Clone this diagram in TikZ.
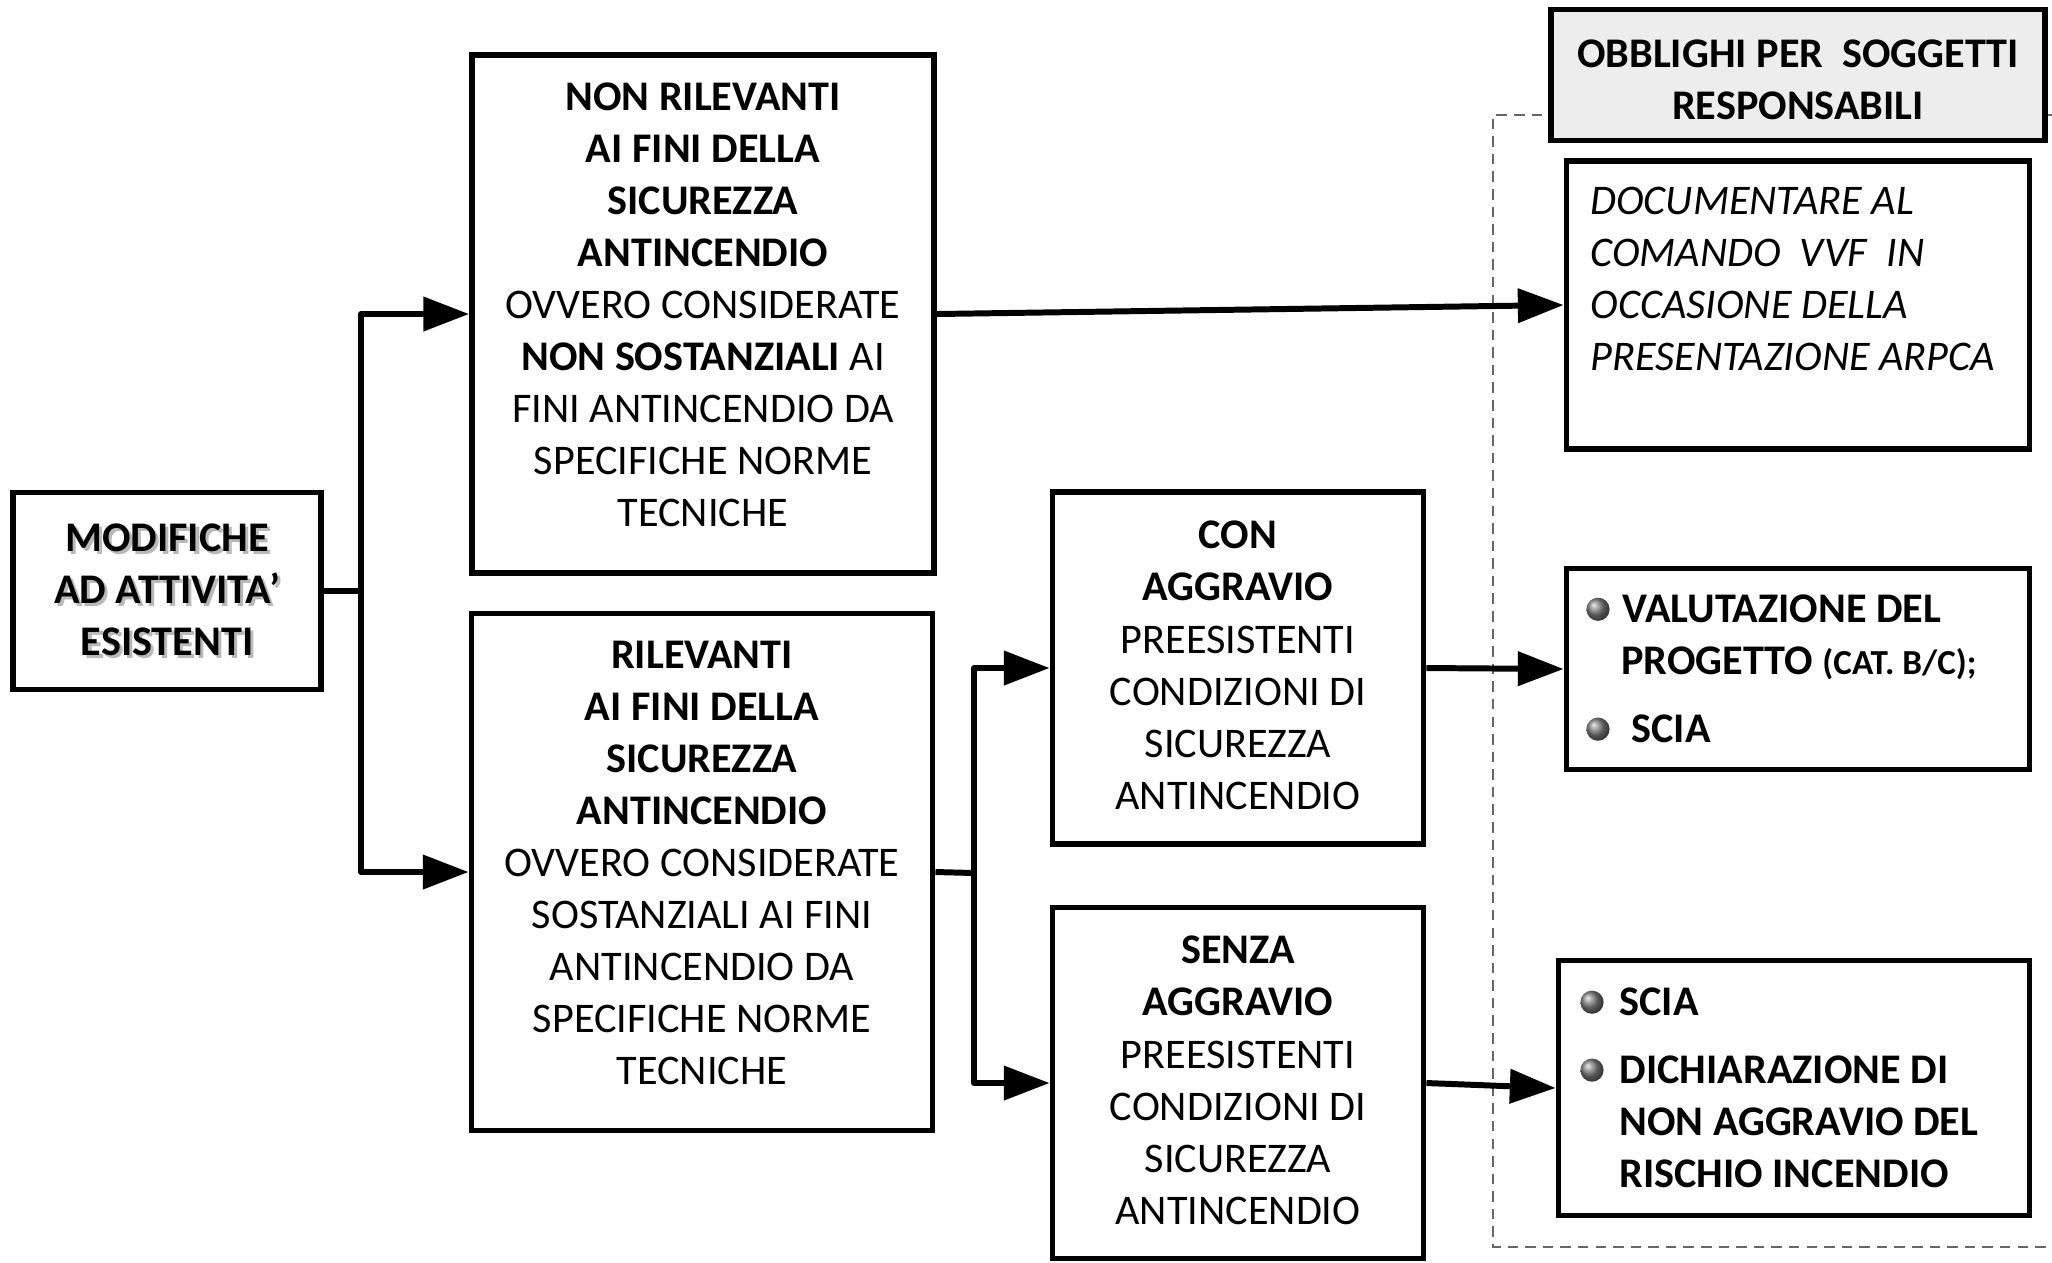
\documentclass[tikz,border=0pt]{standalone}
\usepackage{fontspec}
\setmainfont{Carlito}
\usetikzlibrary{arrows.meta}
\definecolor{hdrgray}{HTML}{EDEDED}
\newcommand{\ballbul}{\tikz[baseline=-0.32em]\shade[ball color=gray] (0,0) circle (3.3pt);}
\newcommand{\shline}[1]{\makebox[0pt][l]{\hspace{0.9pt}\raisebox{-0.9pt}{\color{gray!55}\bfseries#1}}\textbf{#1}}
\newcommand{\lowstrut}[1]{\rule[-#1]{0pt}{0pt}}

\begin{document}
\begin{tikzpicture}
  [
    x = 0.01cm, y = -0.01cm,
    every node/.style = {font=\fontsize{12pt}{14.8pt}\selectfont},
    flowbox/.style    = {draw, line width=1.6pt, align=center, inner sep=0pt},
    outbox/.style     = {draw, line width=1.6pt, align=flush left, inner ysep=0pt},
    conn/.style       = {line width=1.7pt, line join=round},
    arr/.style        = {conn, -{Triangle[length=13pt,width=9.5pt]}}
  ]
 \useasboundingbox (0,0) rectangle (2052,1262);
 % frame of the right column
 \draw[gray!80!black, line width=0.5pt, dash pattern=on 3pt off 2pt]
   (2052,115) -- (1493,115) -- (1493,1247) -- (2052,1247);
 % left part
 \node[flowbox, minimum width=3.08cm, minimum height=1.97cm] (mod) at (167,591)
   {\shline{MODIFICHE}\\ \shline{AD ATTIVITA’}\\ \shline{ESISTENTI}};
 \node[flowbox, minimum width=4.62cm, minimum height=5.18cm] (nonril) at (703,314)
   {\textbf{NON RILEVANTI}\\ \textbf{AI FINI DELLA}\\ \textbf{SICUREZZA}\\ \textbf{ANTINCENDIO}\\
    OVVERO CONSIDERATE\\ \textbf{NON SOSTANZIALI} AI\\ FINI ANTINCENDIO DA\\ SPECIFICHE NORME\\ TECNICHE\lowstrut{5.2pt}};
 \node[flowbox, minimum width=4.61cm, minimum height=5.17cm] (ril) at (702,872)
   {\textbf{RILEVANTI}\\ \textbf{AI FINI DELLA}\\ \textbf{SICUREZZA}\\ \textbf{ANTINCENDIO}\\
    OVVERO CONSIDERATE\\ SOSTANZIALI AI FINI\\ ANTINCENDIO DA\\ SPECIFICHE NORME\\ TECNICHE\lowstrut{5.2pt}};
 \node[flowbox, minimum width=3.71cm, minimum height=3.52cm] (con) at (1238,668)
   {\textbf{CON}\\ \textbf{AGGRAVIO}\\ PREESISTENTI\\ CONDIZIONI DI\\ SICUREZZA\\ ANTINCENDIO\lowstrut{1.6pt}};
 \node[flowbox, minimum width=3.71cm, minimum height=3.51cm] (senza) at (1238,1083)
   {\textbf{SENZA}\\ \textbf{AGGRAVIO}\\ PREESISTENTI\\ CONDIZIONI DI\\ SICUREZZA\\ ANTINCENDIO\lowstrut{1.6pt}};
 % right column
 \node[flowbox, fill=hdrgray, minimum width=4.94cm, minimum height=1.31cm] (hdr) at (1798,75)
   {\textbf{OBBLIGHI PER~~SOGGETTI}\rule{0pt}{10.5pt}\\ \textbf{RESPONSABILI}};
 \node[outbox, inner xsep=0.24cm, text width=4.15cm, minimum height=2.88cm] (doc) at (1798,305)
   {\itshape DOCUMENTARE AL\\ COMANDO~~VVF~~IN\\ OCCASIONE DELLA\\ PRESENTAZIONE ARPCA\\ \mbox{}};
 \node[outbox, inner xsep=0.2cm, text width=4.23cm, minimum height=2.01cm] (val) at (1798,669)
   {\bfseries\ballbul\hspace{0.13cm}VALUTAZIONE DEL\\
    \hspace{0.35cm}PROGETTO {\fontsize{10pt}{12pt}\selectfont(CAT. B/C);}\\[4.5pt]
    \ballbul\hspace{0.22cm}SCIA};
 \node[outbox, inner xsep=0.22cm, text width=4.27cm, minimum height=2.55cm] (scia) at (1794,1088)
   {\bfseries\ballbul\hspace{0.16cm}SCIA\\[4.5pt]
    \ballbul\hspace{0.16cm}DICHIARAZIONE DI\\ \hspace{0.39cm}NON AGGRAVIO DEL\\ \hspace{0.39cm}RISCHIO INCENDIO};
 % connectors
 \coordinate (split1) at (361,591);
 \coordinate (split2) at (974,873);
 \draw[conn] (mod.east) -- (split1);
 \draw[arr] (split1) |- (nonril.west);
 \draw[arr] (split1) |- (ril.west);
 \draw[conn] (ril.east) -- (split2);
 \draw[arr] (split2) |- (con.west);
 \draw[arr] (split2) |- (senza.west);
 \draw[arr] (nonril.east) -- (doc.west);
 \draw[arr] (con.east) -- (val.west);
 \draw[arr] (senza.east) -- (scia.west);
\end{tikzpicture}
\end{document}
